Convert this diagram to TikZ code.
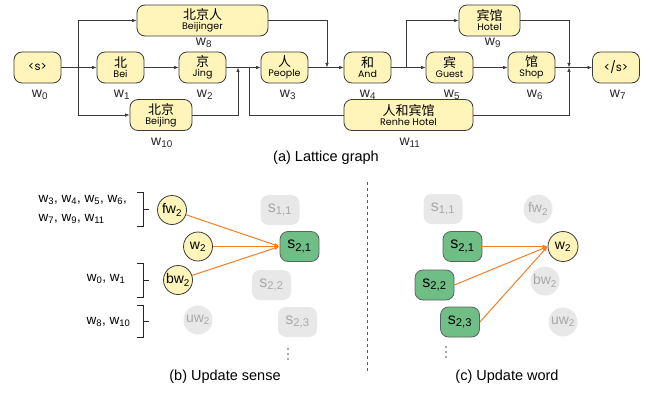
\documentclass[tikz,border=0pt]{standalone}
\usepackage{fontspec}
\setmainfont{Liberation Sans}
\newfontfamily\cjk{Noto Sans CJK SC}
\newfontfamily\gothic{Poppins}
\usetikzlibrary{arrows.meta}
\definecolor{yfill}{HTML}{FFF5BA}
\definecolor{gfill}{HTML}{6EBE85}
\definecolor{grayfill}{HTML}{E8E8E8}
\definecolor{graytext}{HTML}{A8A8A8}
\definecolor{orangeline}{HTML}{F07F2A}
\definecolor{edgecol}{HTML}{3A3A3A}
\newcommand{\cn}[1]{{\cjk\fontsize{13}{14}\selectfont #1}}
\newcommand{\en}[1]{{\gothic\fontsize{9.5}{10}\selectfont #1}}
\newcommand{\lat}[2]{\cn{#1}\\[-2pt]\en{#2}}
\begin{document}
\begin{tikzpicture}[x=1pt,y=-1pt,
  latnode/.style={draw=edgecol, line width=0.8pt, fill=yfill, rounded corners=8pt,
     minimum width=47pt, minimum height=31pt, inner sep=1pt, align=center},
  wlab/.style={font=\fontsize{14}{15}\selectfont, text=black!85},
  ledge/.style={draw=edgecol, line width=0.7pt, -{Latex[length=4.5pt,width=3.5pt]}},
  lline/.style={draw=edgecol, line width=0.7pt},
  ycirc/.style={circle, draw=edgecol, line width=0.8pt, fill=yfill, minimum size=29pt, inner sep=0pt, font=\fontsize{14}{15}\selectfont},
  gcirc/.style={circle, fill=grayfill, minimum size=29pt, inner sep=0pt, text=graytext, font=\fontsize{14}{15}\selectfont},
  gsense/.style={rounded corners=8pt, fill=gfill, draw=edgecol!80, line width=0.8pt, minimum width=39pt, minimum height=30pt, inner sep=0pt, font=\fontsize{16}{17}\selectfont},
  graysense/.style={rounded corners=8pt, fill=grayfill, minimum width=39pt, minimum height=30pt, inner sep=0pt, text=graytext, font=\fontsize{16}{17}\selectfont},
  oedge/.style={draw=orangeline, line width=1pt, -{Latex[length=5pt,width=4pt]}},
  caption/.style={font=\fontsize{14.5}{16}\selectfont},
  brlab/.style={font=\fontsize{13.5}{16}\selectfont, align=left},
  brack/.style={draw=black!85, line width=0.8pt},
  vdot/.style={circle, fill=black!70, inner sep=0pt, minimum size=1.6pt}
]
\useasboundingbox (0,0) rectangle (652,393);

% ---------------- Lattice graph ----------------
\node[latnode] (w0) at (37.5,67.5) {\en{\fontsize{11.5}{12}\selectfont <s>}};
\node[latnode] (w1) at (120.5,67.5) {\lat{北}{Bei}};
\node[latnode] (w2) at (202.5,67.5) {\lat{京}{Jing}};
\node[latnode] (w3) at (284.5,67.5) {\lat{人}{People}};
\node[latnode] (w4) at (367.5,67.5) {\lat{和}{And}};
\node[latnode] (w5) at (449.5,67.5) {\lat{宾}{Guest}};
\node[latnode] (w6) at (531.5,67.5) {\lat{馆}{Shop}};
\node[latnode] (w7) at (616,67.5) {\en{\fontsize{11.5}{12}\selectfont </s>}};
\node[latnode, minimum width=131pt] (w8) at (202.5,20.5) {\lat{北京人}{Beijinger}};
\node[latnode, minimum width=61pt] (w9) at (489.5,20.5) {\lat{宾馆}{Hotel}};
\node[latnode, minimum width=62pt] (w10) at (161,115) {\lat{北京}{Beijing}};
\node[latnode, minimum width=129pt] (w11) at (408.5,115) {\lat{人和宾馆}{Renhe Hotel}};

\node[wlab] (l0) at (40,95) {w\textsubscript{0}};
\node[wlab] (l1) at (122,95) {w\textsubscript{1}};
\node[wlab] (l2) at (205,95) {w\textsubscript{2}};
\node[wlab] (l3) at (288,95) {w\textsubscript{3}};
\node[wlab] (l4) at (368,95) {w\textsubscript{4}};
\node[wlab] (l5) at (452,95) {w\textsubscript{5}};
\node[wlab] (l6) at (535,95) {w\textsubscript{6}};
\node[wlab] (l7) at (618,95) {w\textsubscript{7}};
\node[wlab] (l8) at (204,43) {w\textsubscript{8}};
\node[wlab] (l9) at (493,43) {w\textsubscript{9}};
\node[wlab] (l10) at (162,143) {w\textsubscript{10}};
\node[wlab] (l11) at (410,143) {w\textsubscript{11}};

\coordinate (b1) at (78,67.5);
\coordinate (j1) at (238,67.5);
\coordinate (b2) at (249,67.5);
\coordinate (j2) at (327,67.5);
\coordinate (b3) at (406,67.5);
\coordinate (j3) at (569,67.5);

\path[ledge] (w0) -- (w1);
\path[ledge] (b1) |- (w8.west);
\path[ledge] (b1) |- (w10.west);
\path[ledge] (w1) -- (w2);
\path[ledge] (w2) -- (w3);
\path[ledge] (w10.east) -| (j1);
\path[lline] (b2) |- (w11.west);
\path[ledge] (w8.east) -| (j2);
\path[ledge] (w3) -- (w4);
\path[ledge] (w4) -- (w5);
\path[ledge] (b3) |- (w9.west);
\path[ledge] (w5) -- (w6);
\path[ledge] (w6) -- (w7);
\path[ledge] (w9.east) -| (j3);
\path[ledge] (w11.east) -| (j3);

\node[caption] (capa) at (326,158) {(a) Lattice graph};

% ---------------- (b) Update sense ----------------
\node[ycirc] (fw) at (172,210) {fw\textsubscript{2}};
\node[ycirc] (wb) at (198,246.5) {w\textsubscript{2}};
\node[ycirc] (bw) at (178,280) {bw\textsubscript{2}};
\node[gcirc] (uw) at (198,320) {uw\textsubscript{2}};
\node[graysense] (s11) at (280,210) {s\textsubscript{1,1}};
\node[gsense] (s21) at (299.5,246.5) {s\textsubscript{2,1}};
\node[graysense] (s22) at (271.5,285) {s\textsubscript{2,2}};
\node[graysense] (s23) at (297.5,322) {s\textsubscript{2,3}};
\node[vdot] (db1) at (288,349) {};
\node[vdot] (db2) at (288,354) {};
\node[vdot] (db3) at (288,359) {};

\path[oedge] (fw) -- (s21.west);
\path[oedge] (wb) -- (s21.west);
\path[oedge] (bw) -- (s21.west);

\node[brlab, anchor=west] (la1) at (35,200) {w\textsubscript{3}, w\textsubscript{4}, w\textsubscript{5}, w\textsubscript{6},};
\node[brlab, anchor=west] (la2) at (35,219) {w\textsubscript{7}, w\textsubscript{9}, w\textsubscript{11}};
\node[brlab, anchor=east] (la3) at (129,279) {w\textsubscript{0}, w\textsubscript{1}};
\node[brlab, anchor=east] (la4) at (134,322) {w\textsubscript{8}, w\textsubscript{10}};

\draw[brack] (137,192) -- (143,192) -- (143,226) -- (137,226) (143,209) -- (149,209);
\draw[brack] (137,263) -- (143,263) -- (143,297) -- (137,297) (143,280) -- (149,280);
\draw[brack] (137,305) -- (143,305) -- (143,337) -- (137,337) (143,321) -- (149,321);

\node[caption] (capb) at (225,377) {(b) Update sense};

% divider
\draw[dashed, draw=black!65, line width=0.7pt] (367,182) -- (367,372);

% ---------------- (c) Update word ----------------
\node[graysense] (t11) at (443,209) {s\textsubscript{1,1}};
\node[gcirc] (tfw) at (538,209) {fw\textsubscript{2}};
\node[gsense] (t21) at (462.5,246.5) {s\textsubscript{2,1}};
\node[ycirc, minimum size=30pt] (tw) at (563,246.5) {w\textsubscript{2}};
\node[gsense] (t22) at (434.5,285) {s\textsubscript{2,2}};
\node[gcirc] (tbw) at (545,281) {bw\textsubscript{2}};
\node[gsense] (t23) at (460,322) {s\textsubscript{2,3}};
\node[gcirc] (tuw) at (563,322) {uw\textsubscript{2}};
\node[vdot] (dc1) at (446,347) {};
\node[vdot] (dc2) at (446,352) {};
\node[vdot] (dc3) at (446,357) {};

\path[oedge] (t21.east) -- (tw.west);
\path[oedge] (t22.east) -- (tw.west);
\path[oedge] (t23.east) -- (tw.west);

\node[caption] (capc) at (507,377) {(c) Update word};
\end{tikzpicture}
\end{document}
